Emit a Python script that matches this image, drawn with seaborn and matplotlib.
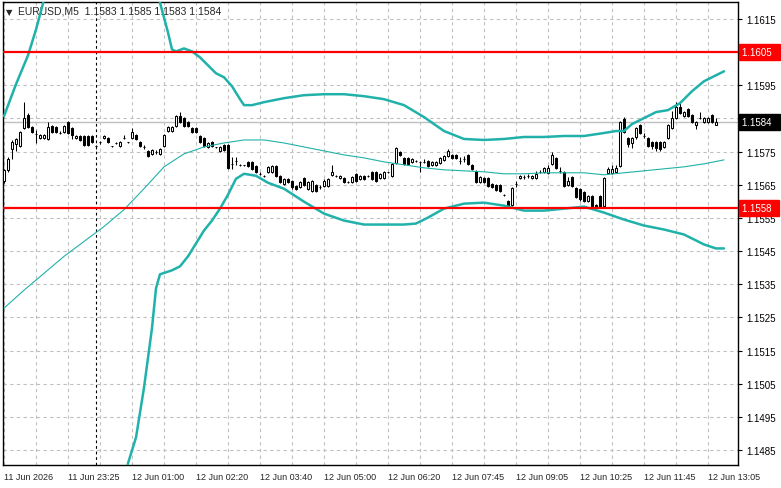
import matplotlib
matplotlib.use("Agg")
import matplotlib.pyplot as plt
import seaborn as sns
import pandas as pd
import numpy as np

"""
EURUSD M5 candles with Bollinger bands and two levels
"""

# OHLC of each M5 bar, left to right
opens = [
    1.15662, 1.15695, 1.15758, 1.15773, 1.15767, 1.15821, 1.15860, 1.15824, 1.15803, 1.15791,
    1.15791, 1.15788, 1.15827, 1.15824, 1.15806, 1.15809, 1.15839, 1.15821, 1.15791, 1.15797,
    1.15797, 1.15797, 1.15797, 1.15767, 1.15779, 1.15791, 1.15791, 1.15767, 1.15776, 1.15767,
    1.15791, 1.15779, 1.15791, 1.15800, 1.15779, 1.15764, 1.15752, 1.15743, 1.15749, 1.15743,
    1.15767, 1.15812, 1.15812, 1.15827, 1.15857, 1.15851, 1.15839, 1.15821, 1.15821, 1.15797,
    1.15791, 1.15764, 1.15779, 1.15764, 1.15752, 1.15770, 1.15770, 1.15713, 1.15722, 1.15710,
    1.15710, 1.15719, 1.15719, 1.15707, 1.15683, 1.15677, 1.15689, 1.15689, 1.15707, 1.15677,
    1.15653, 1.15668, 1.15662, 1.15647, 1.15644, 1.15671, 1.15638, 1.15632, 1.15650, 1.15644,
    1.15647, 1.15647, 1.15680, 1.15677, 1.15671, 1.15671, 1.15659, 1.15659, 1.15683, 1.15668,
    1.15677, 1.15677, 1.15689, 1.15689, 1.15671, 1.15671, 1.15689, 1.15677, 1.15716, 1.15749,
    1.15731, 1.15731, 1.15719, 1.15722, 1.15719, 1.15719, 1.15722, 1.15710, 1.15710, 1.15716,
    1.15725, 1.15737, 1.15740, 1.15740, 1.15722, 1.15728, 1.15740, 1.15710, 1.15692, 1.15659,
    1.15671, 1.15671, 1.15653, 1.15650, 1.15650, 1.15620, 1.15602, 1.15590, 1.15653, 1.15671,
    1.15674, 1.15677, 1.15671, 1.15671, 1.15689, 1.15689, 1.15686, 1.15713, 1.15731, 1.15692,
    1.15689, 1.15650, 1.15674, 1.15641, 1.15638, 1.15629, 1.15602, 1.15617, 1.15590, 1.15617,
    1.15587, 1.15686, 1.15686, 1.15689, 1.15707, 1.15848, 1.15791, 1.15776, 1.15794, 1.15830,
    1.15797, 1.15791, 1.15779, 1.15779, 1.15779, 1.15764, 1.15791, 1.15821, 1.15851, 1.15884,
    1.15857, 1.15878, 1.15860, 1.15830, 1.15851, 1.15839, 1.15839, 1.15860, 1.15830,
]
highs = [
    1.15698, 1.15734, 1.15785, 1.15791, 1.15812, 1.15899, 1.15866, 1.15827, 1.15815, 1.15803,
    1.15803, 1.15839, 1.15830, 1.15827, 1.15812, 1.15830, 1.15842, 1.15824, 1.15800, 1.15800,
    1.15800, 1.15800, 1.15800, 1.15770, 1.15782, 1.15800, 1.15794, 1.15767, 1.15779, 1.15782,
    1.15800, 1.15779, 1.15821, 1.15803, 1.15782, 1.15770, 1.15755, 1.15758, 1.15755, 1.15761,
    1.15803, 1.15827, 1.15827, 1.15860, 1.15869, 1.15854, 1.15842, 1.15824, 1.15824, 1.15800,
    1.15794, 1.15779, 1.15782, 1.15764, 1.15767, 1.15773, 1.15773, 1.15734, 1.15734, 1.15713,
    1.15710, 1.15722, 1.15722, 1.15710, 1.15689, 1.15680, 1.15707, 1.15710, 1.15710, 1.15680,
    1.15671, 1.15671, 1.15665, 1.15650, 1.15662, 1.15674, 1.15662, 1.15665, 1.15653, 1.15650,
    1.15668, 1.15671, 1.15710, 1.15680, 1.15680, 1.15674, 1.15662, 1.15677, 1.15686, 1.15680,
    1.15680, 1.15680, 1.15692, 1.15692, 1.15686, 1.15692, 1.15689, 1.15716, 1.15764, 1.15752,
    1.15734, 1.15734, 1.15731, 1.15725, 1.15722, 1.15728, 1.15725, 1.15722, 1.15722, 1.15734,
    1.15740, 1.15758, 1.15743, 1.15743, 1.15734, 1.15737, 1.15743, 1.15713, 1.15695, 1.15677,
    1.15674, 1.15674, 1.15656, 1.15653, 1.15653, 1.15623, 1.15605, 1.15644, 1.15662, 1.15680,
    1.15680, 1.15683, 1.15680, 1.15692, 1.15695, 1.15704, 1.15710, 1.15749, 1.15734, 1.15704,
    1.15692, 1.15674, 1.15677, 1.15644, 1.15641, 1.15632, 1.15620, 1.15620, 1.15593, 1.15620,
    1.15674, 1.15704, 1.15710, 1.15710, 1.15842, 1.15854, 1.15794, 1.15794, 1.15824, 1.15833,
    1.15806, 1.15794, 1.15782, 1.15782, 1.15782, 1.15782, 1.15833, 1.15872, 1.15899, 1.15896,
    1.15872, 1.15881, 1.15863, 1.15842, 1.15869, 1.15854, 1.15854, 1.15863, 1.15850,
]
lows = [
    1.15656, 1.15689, 1.15728, 1.15752, 1.15764, 1.15818, 1.15821, 1.15806, 1.15776, 1.15788,
    1.15788, 1.15785, 1.15806, 1.15806, 1.15803, 1.15806, 1.15803, 1.15788, 1.15788, 1.15782,
    1.15767, 1.15767, 1.15776, 1.15758, 1.15773, 1.15788, 1.15776, 1.15764, 1.15773, 1.15764,
    1.15788, 1.15776, 1.15788, 1.15785, 1.15764, 1.15758, 1.15734, 1.15740, 1.15743, 1.15740,
    1.15764, 1.15809, 1.15809, 1.15824, 1.15836, 1.15824, 1.15824, 1.15806, 1.15806, 1.15776,
    1.15764, 1.15761, 1.15764, 1.15761, 1.15749, 1.15752, 1.15698, 1.15698, 1.15710, 1.15707,
    1.15707, 1.15704, 1.15695, 1.15686, 1.15680, 1.15674, 1.15686, 1.15686, 1.15674, 1.15656,
    1.15650, 1.15656, 1.15638, 1.15635, 1.15641, 1.15647, 1.15635, 1.15629, 1.15629, 1.15638,
    1.15644, 1.15644, 1.15677, 1.15674, 1.15668, 1.15656, 1.15656, 1.15656, 1.15659, 1.15665,
    1.15665, 1.15674, 1.15665, 1.15659, 1.15668, 1.15668, 1.15686, 1.15674, 1.15713, 1.15737,
    1.15710, 1.15710, 1.15716, 1.15719, 1.15689, 1.15716, 1.15704, 1.15707, 1.15707, 1.15713,
    1.15722, 1.15734, 1.15728, 1.15728, 1.15713, 1.15719, 1.15710, 1.15695, 1.15656, 1.15656,
    1.15656, 1.15644, 1.15641, 1.15632, 1.15629, 1.15617, 1.15584, 1.15587, 1.15644, 1.15668,
    1.15668, 1.15671, 1.15668, 1.15668, 1.15686, 1.15686, 1.15683, 1.15710, 1.15698, 1.15686,
    1.15644, 1.15647, 1.15644, 1.15611, 1.15602, 1.15599, 1.15599, 1.15584, 1.15584, 1.15581,
    1.15584, 1.15683, 1.15683, 1.15686, 1.15704, 1.15806, 1.15764, 1.15761, 1.15788, 1.15803,
    1.15791, 1.15764, 1.15758, 1.15752, 1.15752, 1.15761, 1.15788, 1.15818, 1.15848, 1.15863,
    1.15854, 1.15854, 1.15836, 1.15818, 1.15848, 1.15836, 1.15836, 1.15836, 1.15830,
]
closes = [
    1.15695, 1.15728, 1.15779, 1.15788, 1.15809, 1.15851, 1.15824, 1.15809, 1.15803, 1.15800,
    1.15800, 1.15824, 1.15809, 1.15809, 1.15806, 1.15827, 1.15806, 1.15800, 1.15797, 1.15785,
    1.15770, 1.15770, 1.15779, 1.15767, 1.15779, 1.15797, 1.15779, 1.15767, 1.15776, 1.15779,
    1.15791, 1.15779, 1.15809, 1.15788, 1.15767, 1.15764, 1.15737, 1.15755, 1.15749, 1.15758,
    1.15800, 1.15824, 1.15824, 1.15857, 1.15839, 1.15827, 1.15827, 1.15809, 1.15809, 1.15779,
    1.15767, 1.15776, 1.15767, 1.15764, 1.15764, 1.15755, 1.15701, 1.15713, 1.15722, 1.15710,
    1.15710, 1.15707, 1.15698, 1.15689, 1.15683, 1.15677, 1.15704, 1.15707, 1.15677, 1.15659,
    1.15668, 1.15659, 1.15644, 1.15638, 1.15659, 1.15650, 1.15659, 1.15662, 1.15632, 1.15644,
    1.15662, 1.15668, 1.15689, 1.15677, 1.15677, 1.15659, 1.15659, 1.15674, 1.15662, 1.15677,
    1.15668, 1.15677, 1.15668, 1.15662, 1.15683, 1.15689, 1.15689, 1.15713, 1.15761, 1.15740,
    1.15713, 1.15713, 1.15728, 1.15722, 1.15719, 1.15719, 1.15707, 1.15719, 1.15719, 1.15731,
    1.15737, 1.15752, 1.15731, 1.15731, 1.15722, 1.15728, 1.15713, 1.15698, 1.15659, 1.15674,
    1.15659, 1.15647, 1.15644, 1.15635, 1.15632, 1.15620, 1.15587, 1.15641, 1.15653, 1.15677,
    1.15674, 1.15677, 1.15677, 1.15683, 1.15689, 1.15701, 1.15701, 1.15740, 1.15701, 1.15692,
    1.15647, 1.15662, 1.15647, 1.15614, 1.15608, 1.15602, 1.15617, 1.15587, 1.15587, 1.15584,
    1.15671, 1.15698, 1.15698, 1.15701, 1.15839, 1.15809, 1.15773, 1.15791, 1.15821, 1.15806,
    1.15797, 1.15767, 1.15767, 1.15761, 1.15758, 1.15779, 1.15830, 1.15851, 1.15884, 1.15866,
    1.15869, 1.15857, 1.15839, 1.15839, 1.15851, 1.15851, 1.15851, 1.15839, 1.15840,
]

# Bollinger bands read at some bars (values off the chart are guesses)
upper_bar = [0, 3, 6, 8, 10, 15, 20, 25, 30, 35, 38, 39, 40, 41, 42, 43, 45, 47, 49, 51,
             53, 55, 57, 59, 60, 62, 65, 70, 75, 80, 85, 90, 95, 100, 105, 110, 115, 120, 125,
             130, 135, 140, 145, 150, 153, 155, 157, 160, 163, 166, 169, 172, 175, 178, 180]
upper_band = [1.15857, 1.15953, 1.16040, 1.16118, 1.16208, 1.16328, 1.16400, 1.16433,
              1.16424, 1.16343, 1.16238, 1.16199, 1.16154, 1.16109, 1.16058, 1.16052, 1.16061,
              1.16052, 1.16034, 1.16010, 1.15986, 1.15974, 1.15947, 1.15908, 1.15890, 1.15890,
              1.15899, 1.15911, 1.15920, 1.15923, 1.15923, 1.15917, 1.15908, 1.15890, 1.15854,
              1.15812, 1.15788, 1.15785, 1.15788, 1.15794, 1.15794, 1.15797, 1.15797, 1.15806,
              1.15812, 1.15812, 1.15833, 1.15851, 1.15869, 1.15875, 1.15896, 1.15932, 1.15962,
              1.15980, 1.15992]
lower_bar = [0, 10, 20, 28, 31, 33, 35, 37, 38, 39, 42, 44, 46, 48, 50, 52, 54, 56, 58, 60,
             63, 66, 70, 75, 80, 85, 90, 95, 100, 103, 106, 110, 115, 120, 125, 130, 135,
             140, 145, 150, 155, 160, 165, 170, 175, 178, 180]
lower_band = [1.14408, 1.14288, 1.14348, 1.14588, 1.14810, 1.14888, 1.15038, 1.15218, 1.15338,
              1.15380, 1.15392, 1.15404, 1.15434, 1.15473, 1.15512, 1.15542, 1.15578, 1.15620,
              1.15668, 1.15683, 1.15677, 1.15656, 1.15638, 1.15599, 1.15563, 1.15542, 1.15530,
              1.15530, 1.15530, 1.15533, 1.15551, 1.15578, 1.15593, 1.15596, 1.15587, 1.15572,
              1.15572, 1.15578, 1.15584, 1.15566, 1.15545, 1.15527, 1.15515, 1.15500, 1.15470,
              1.15458, 1.15458]
mid_bar = list(range(0, 181, 5))
mid_band = [1.15278, 1.15332, 1.15383, 1.15434, 1.15479, 1.15524, 1.15575, 1.15638, 1.15704,
            1.15743, 1.15764, 1.15776, 1.15785, 1.15785, 1.15776, 1.15764, 1.15752, 1.15740,
            1.15731, 1.15719, 1.15710, 1.15701, 1.15695, 1.15692, 1.15689, 1.15683, 1.15683,
            1.15686, 1.15686, 1.15686, 1.15680, 1.15686, 1.15692, 1.15698, 1.15704, 1.15713,
            1.15725]

levels = [1.1605, 1.1558]
bid = 1.1584
day_break = 23
x_labels = ["11 Jun 2026", "11 Jun 23:25", "12 Jun 01:00", "12 Jun 02:20", "12 Jun 03:40",
            "12 Jun 05:00", "12 Jun 06:20", "12 Jun 07:45", "12 Jun 09:05", "12 Jun 10:25",
            "12 Jun 11:45", "12 Jun 13:05"]
header = "EURUSD,M5  1.1583 1.1585 1.1583 1.1584"

sns.set_style("white")
plt.rcParams['font.family'] = ['Liberation Sans', 'DejaVu Sans']

fig = plt.figure(figsize=(7.81, 4.89), dpi=100)
ax = fig.add_axes([3 / 781, 23 / 489, 735 / 781, 463 / 489])

df = pd.DataFrame({'open': opens, 'high': highs, 'low': lows, 'close': closes})
df['bar'] = np.arange(len(df))
up = df['close'] >= df['open']

# wicks
ax.vlines(df['bar'], df['low'], df['high'], color='black', lw=0.75, zorder=3)
# bodies
body_lo = df[['open', 'close']].min(axis=1)
body_h = (df['close'] - df['open']).abs()
ax.bar(df['bar'][up], body_h[up], bottom=body_lo[up], width=0.7, color='white',
       edgecolor='black', linewidth=0.75, zorder=4)
ax.bar(df['bar'][~up], body_h[~up], bottom=body_lo[~up], width=0.7, color='black',
       edgecolor='black', linewidth=0.75, zorder=4)

teal = '#20b2aa'
sns.lineplot(x=upper_bar, y=upper_band, ax=ax, color=teal, lw=1.8, zorder=5)
sns.lineplot(x=lower_bar, y=lower_band, ax=ax, color=teal, lw=1.8, zorder=5)
sns.lineplot(x=mid_bar, y=mid_band, ax=ax, color=teal, lw=0.8, zorder=5)

for lv in levels:
    ax.axhline(lv, color='red', lw=1.6, zorder=6)
ax.axhline(bid, color='#c0c0c0', lw=1.0, zorder=1)
ax.axvline(day_break, color='black', lw=0.8, ls=(0, (2.5, 2.5)), zorder=2)

ax.set_xlim(-0.25, 183.5)
ax.set_ylim(1.14805, 1.16201)

# axes / grid
yt = np.round(np.arange(1.1485, 1.16151, 0.001), 4)
ax.yaxis.tick_right()
ax.set_yticks(yt)
ax.set_yticklabels(['' if abs(v - 1.1605) < 1e-6 or abs(v - 1.1585) < 1e-6 else f'{v:.4f}'
                    for v in yt])
ax.set_xticks(np.arange(len(x_labels)) * 16)
ax.set_xticklabels(x_labels, ha='left')
ax.set_xticks(np.arange(8, 184, 16), minor=True)
ax.tick_params(axis='y', length=3, width=0.8, pad=3, labelsize=7, colors='black')
ax.tick_params(axis='x', which='major', length=3, width=0.8, pad=2, labelsize=6.5)
ax.tick_params(axis='x', which='minor', length=0)
ax.grid(True, which='both', color='#c0c0c0', ls=(0, (3, 3)), lw=0.8)
ax.set_axisbelow(True)
for s in ax.spines.values():
    s.set_color('black')
    s.set_linewidth(1.0)
ax.set_xlabel('')
ax.set_ylabel('')

# price tags on the right
tr = ax.get_yaxis_transform()
for lv in levels:
    ax.text(1.005, lv, f'{lv:.4f}  ', transform=tr, ha='left', va='center', fontsize=7,
            color='white', clip_on=False,
            bbox=dict(boxstyle='square,pad=0.28', fc='red', ec='red'))
ax.text(1.005, bid, f'{bid:.4f}  ', transform=tr, ha='left', va='center', fontsize=7,
        color='white', clip_on=False,
        bbox=dict(boxstyle='square,pad=0.3', fc='black', ec='black'))

ax.text(0.004, 0.99, '\u25bc', transform=ax.transAxes, ha='left', va='top', fontsize=6,
        family='DejaVu Sans')
ax.text(0.02, 0.993, header, transform=ax.transAxes, ha='left', va='top', fontsize=7.5)

fig.savefig('out.png', dpi=100)
